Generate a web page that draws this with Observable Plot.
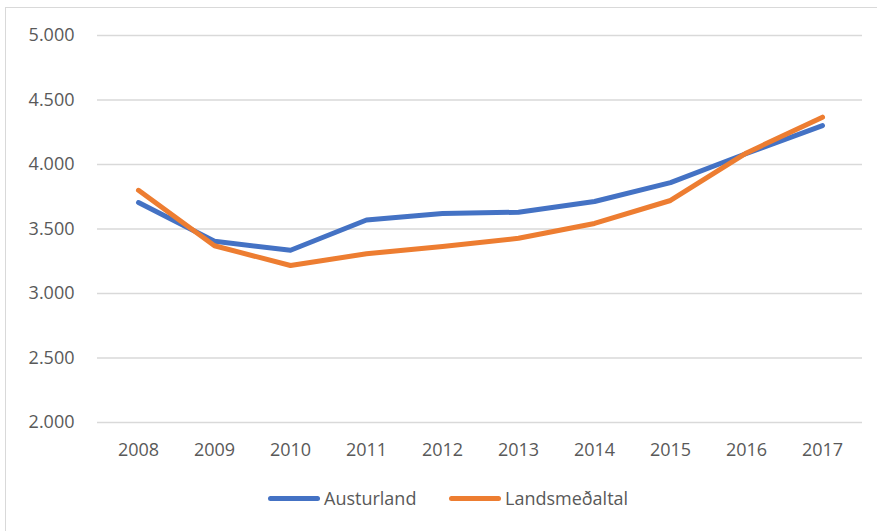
<!DOCTYPE html>
<html>
<head>
<meta charset="utf-8">
<script src="https://cdn.jsdelivr.net/npm/d3@7"></script>
<script src="https://cdn.jsdelivr.net/npm/@observablehq/plot@0.6"></script>
<style>
  html, body { margin: 0; padding: 0; background: #fff; }
  body { width: 877px; height: 531px; position: relative; overflow: hidden; font-family: "Open Sans", "Liberation Sans", sans-serif; }
  #frame { position: absolute; left: 5px; top: 7px; width: 880px; height: 540px; border: 1.5px solid #d9d9d9; box-sizing: border-box; }
  #chart { position: absolute; left: 0; top: 0; }
  #legend { position: absolute; top: 486px; left: 0; width: 877px; height: 26px; }
  .item { position: absolute; top: 0; display: flex; align-items: center; font-size: 18px; color: #595959; }
  .sw { display: inline-block; width: 52px; height: 5px; border-radius: 3px; margin-right: 4px; }
</style>
</head>
<body>
<div id="frame"></div>
<div id="chart"></div>
<div id="legend">
  <div class="item" style="left:268px"><span class="sw" style="background:#4472C4"></span>Austurland</div>
  <div class="item" style="left:449px"><span class="sw" style="background:#ED7D31"></span>Landsmeðaltal</div>
</div>
<script>
const years = ["2008","2009","2010","2011","2012","2013","2014","2015","2016","2017"];
const austurland = [3705, 3405, 3335, 3570, 3620, 3630, 3713, 3860, 4085, 4302];
const landsmedaltal = [3800, 3370, 3217, 3308, 3365, 3428, 3543, 3721, 4090, 4367];
const yTicks = [2000, 2500, 3000, 3500, 4000, 4500, 5000];
const seriesNames = ["Austurland", "Landsmeðaltal"];
const seriesColors = ["#4472C4", "#ED7D31"];

const rows = [];
years.forEach((y, i) => {
  rows.push({year: y, value: austurland[i], series: seriesNames[0]});
  rows.push({year: y, value: landsmedaltal[i], series: seriesNames[1]});
});

const fmtY = d => { const s = String(d); return s.slice(0, s.length - 3) + "." + s.slice(-3); };

const plot = Plot.plot({
  width: 877,
  height: 470,
  marginTop: 35,
  marginBottom: 48,
  marginLeft: 97,
  marginRight: 15,
  style: { fontFamily: "'Open Sans', 'Liberation Sans', sans-serif", fontSize: "18px", color: "#595959", background: "transparent" },
  x: { type: "point", domain: years, padding: 0.5, label: null, tickSize: 0, tickPadding: 21 },
  y: { domain: [2000, 5000], ticks: yTicks, label: null, tickSize: 0, tickPadding: 23, tickFormat: fmtY },
  color: { domain: seriesNames, range: seriesColors },
  marks: [
    Plot.gridY(yTicks, { stroke: "#d9d9d9", strokeOpacity: 1, strokeWidth: 1.5 }),
    Plot.line(rows, { x: "year", y: "value", stroke: "series", strokeWidth: 5, strokeLinecap: "round", strokeLinejoin: "round" })
  ]
});
document.getElementById("chart").appendChild(plot);
</script>
</body>
</html>
